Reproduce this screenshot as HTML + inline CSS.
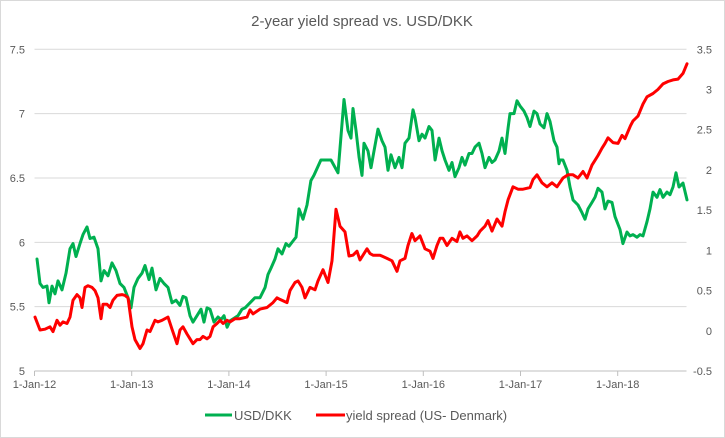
<!DOCTYPE html>
<html><head><meta charset="utf-8"><style>
body{margin:0;background:#fff}
#c{position:absolute;left:0;top:0;width:725px;height:438px}
text{font-family:"Liberation Sans",sans-serif;fill:#595959}
</style></head><body>
<svg id="c" width="725" height="438" xmlns="http://www.w3.org/2000/svg">
<rect x="0.5" y="0.5" width="724" height="437" fill="#fff" stroke="#d9d9d9"/>
<text x="362" y="26" text-anchor="middle" font-size="15">2-year yield spread vs. USD/DKK</text>
<g id="grid"></g><g id="axes"></g><g id="series"></g>
<g>
<line x1="205" y1="415" x2="232" y2="415" stroke="#00B050" stroke-width="3"/>
<text x="234" y="420" font-size="13">USD/DKK</text>
<line x1="316" y1="415" x2="345" y2="415" stroke="#FF0000" stroke-width="3"/>
<text x="346" y="420" font-size="13">yield spread (US- Denmark)</text>
</g>
</svg>
<script>
const leftTicks=[5,5.5,6,6.5,7,7.5];
const rightTicks=[-0.5,0,0.5,1,1.5,2,2.5,3,3.5];
const xTickLabels=["1-Jan-12","1-Jan-13","1-Jan-14","1-Jan-15","1-Jan-16","1-Jan-17","1-Jan-18"];
const greenDates=[0.026,0.057,0.087,0.129,0.149,0.180,0.211,0.242,0.283,0.324,0.365,0.396,0.427,0.468,0.499,0.540,0.571,0.612,0.653,0.684,0.715,0.756,0.797,0.838,0.880,0.921,0.962,0.993,1.024,1.065,1.106,1.137,1.178,1.209,1.250,1.291,1.332,1.373,1.415,1.456,1.497,1.528,1.559,1.600,1.631,1.672,1.713,1.744,1.775,1.806,1.847,1.888,1.919,1.950,1.981,2.012,2.053,2.094,2.135,2.166,2.217,2.269,2.320,2.372,2.402,2.433,2.474,2.505,2.546,2.587,2.618,2.659,2.690,2.721,2.762,2.803,2.844,2.875,2.947,3.050,3.122,3.184,3.225,3.256,3.277,3.308,3.339,3.369,3.390,3.431,3.462,3.493,3.534,3.575,3.606,3.637,3.668,3.709,3.750,3.781,3.812,3.853,3.894,3.915,3.956,3.987,4.018,4.059,4.090,4.121,4.162,4.193,4.223,4.264,4.295,4.326,4.367,4.398,4.429,4.470,4.501,4.532,4.573,4.604,4.635,4.676,4.707,4.738,4.779,4.810,4.841,4.872,4.892,4.933,4.964,4.995,5.036,5.067,5.098,5.139,5.170,5.201,5.242,5.273,5.304,5.345,5.376,5.396,5.406,5.437,5.478,5.509,5.540,5.592,5.633,5.664,5.694,5.736,5.766,5.797,5.838,5.869,5.900,5.941,5.972,6.024,6.054,6.096,6.127,6.157,6.199,6.229,6.260,6.301,6.332,6.363,6.404,6.435,6.466,6.507,6.538,6.569,6.600,6.631,6.672,6.713];
const usdDkk=[5.87,5.68,5.65,5.66,5.53,5.66,5.60,5.70,5.63,5.76,5.95,5.99,5.89,5.99,6.06,6.12,6.03,6.04,5.95,5.70,5.78,5.74,5.84,5.78,5.68,5.65,5.57,5.49,5.65,5.72,5.76,5.82,5.71,5.80,5.63,5.72,5.68,5.65,5.53,5.55,5.51,5.58,5.57,5.43,5.38,5.43,5.48,5.38,5.49,5.48,5.38,5.42,5.40,5.43,5.34,5.39,5.41,5.43,5.48,5.49,5.53,5.57,5.57,5.65,5.75,5.80,5.87,5.95,5.91,5.99,5.97,6.01,6.04,6.26,6.18,6.29,6.48,6.52,6.64,6.64,6.54,7.11,6.87,6.81,7.04,6.87,6.66,6.52,6.77,6.71,6.58,6.71,6.88,6.79,6.74,6.56,6.68,6.58,6.66,6.58,6.77,6.81,7.03,6.97,6.79,6.84,6.81,6.90,6.87,6.64,6.81,6.71,6.64,6.56,6.62,6.51,6.58,6.66,6.60,6.69,6.69,6.74,6.77,6.69,6.58,6.66,6.62,6.64,6.71,6.81,6.69,6.89,7.00,7.00,7.10,7.06,7.02,6.97,6.90,7.02,7.00,6.92,6.89,7.00,6.94,6.79,6.74,6.61,6.64,6.64,6.56,6.43,6.33,6.29,6.23,6.18,6.26,6.31,6.35,6.42,6.39,6.26,6.32,6.31,6.20,6.10,5.99,6.08,6.05,6.06,6.04,6.06,6.05,6.16,6.26,6.39,6.35,6.41,6.35,6.39,6.37,6.43,6.54,6.43,6.46,6.33];
const redDates=[0.005,0.057,0.108,0.159,0.190,0.231,0.262,0.293,0.334,0.365,0.396,0.437,0.468,0.489,0.520,0.550,0.592,0.622,0.653,0.684,0.705,0.746,0.777,0.808,0.849,0.900,0.931,0.962,1.003,1.034,1.085,1.116,1.157,1.188,1.240,1.271,1.312,1.343,1.373,1.415,1.466,1.497,1.528,1.569,1.600,1.631,1.672,1.703,1.734,1.775,1.806,1.837,1.878,1.909,1.940,1.981,2.012,2.063,2.114,2.186,2.217,2.248,2.320,2.392,2.454,2.495,2.526,2.598,2.629,2.680,2.711,2.752,2.783,2.834,2.886,2.917,2.968,3.020,3.061,3.102,3.143,3.194,3.236,3.277,3.318,3.349,3.421,3.452,3.483,3.555,3.627,3.678,3.729,3.760,3.812,3.843,3.883,3.915,3.966,4.017,4.069,4.100,4.141,4.172,4.203,4.244,4.295,4.346,4.377,4.408,4.450,4.501,4.553,4.584,4.635,4.666,4.707,4.758,4.810,4.841,4.872,4.923,4.974,5.026,5.098,5.129,5.170,5.221,5.273,5.324,5.375,5.437,5.489,5.540,5.592,5.643,5.684,5.736,5.766,5.797,5.838,5.869,5.900,5.952,6.003,6.044,6.075,6.132,6.157,6.209,6.260,6.301,6.363,6.414,6.466,6.517,6.569,6.620,6.672,6.713];
const yieldSpread=[0.17,0.01,0.02,0.05,-0.01,0.13,0.07,0.11,0.09,0.17,0.38,0.45,0.41,0.29,0.54,0.56,0.54,0.50,0.41,0.15,0.33,0.33,0.29,0.38,0.44,0.45,0.44,0.41,0.05,-0.11,-0.22,-0.16,0.01,-0.01,0.13,0.11,0.13,0.15,0.17,0.02,-0.16,0.01,0.05,-0.04,-0.10,-0.16,-0.11,-0.11,-0.07,-0.10,-0.07,0.05,0.09,0.13,0.09,0.13,0.11,0.15,0.15,0.17,0.26,0.21,0.27,0.29,0.35,0.41,0.39,0.35,0.50,0.60,0.62,0.54,0.41,0.54,0.51,0.62,0.76,0.60,0.87,1.51,1.30,1.23,0.93,0.94,0.99,0.88,1.02,0.96,0.94,0.94,0.90,0.87,0.74,0.87,0.90,1.06,1.21,1.12,1.18,1.02,0.99,0.90,1.06,1.15,1.15,1.06,1.15,1.11,1.23,1.15,1.18,1.12,1.18,1.24,1.30,1.37,1.24,1.39,1.30,1.48,1.63,1.79,1.76,1.76,1.78,1.88,1.94,1.84,1.79,1.84,1.79,1.90,1.94,1.94,1.90,1.98,1.90,2.06,2.12,2.18,2.27,2.33,2.40,2.34,2.33,2.43,2.39,2.55,2.61,2.67,2.82,2.91,2.95,3.00,3.07,3.10,3.12,3.13,3.20,3.32];

const NS="http://www.w3.org/2000/svg";
const X0=34.5,YPX=97.2,XEND=686.5,YT=49.3,YB=371;
const x=t=>X0+t*YPX;
const yL=v=>YB-(v-5)/2.5*(YB-YT);
const yR=v=>YB-(v+0.5)/4*(YB-YT);
function mk(tag,attrs,parent,txt){const e=document.createElementNS(NS,tag);for(const k in attrs)e.setAttribute(k,attrs[k]);if(txt!==undefined)e.textContent=txt;parent.appendChild(e);return e;}
const grid=document.getElementById('grid'),axes=document.getElementById('axes'),series=document.getElementById('series');
leftTicks.forEach(v=>{
  const yy=yL(v);
  if(v>5){const g=mk('line',{x1:X0,x2:XEND,y1:yy,y2:yy,stroke:'#d9d9d9','stroke-width':1},grid);
  
  }
  const t=mk('text',{x:25,y:yy+4,'text-anchor':'end','font-size':11},axes,String(v));
  
  
});
rightTicks.forEach(v=>{
  const t=mk('text',{x:712,y:yR(v)+4,'text-anchor':'end','font-size':11},axes,String(v));
  
  
});
const ax=mk('line',{x1:X0,x2:XEND,y1:YB,y2:YB,stroke:'#bfbfbf','stroke-width':1},axes);


xTickLabels.forEach((l,i)=>{
  const xx=x(i);
  const tk=mk('line',{x1:xx,x2:xx,y1:YB,y2:YB+5,stroke:'#bfbfbf'},axes);
  
  
  const t=mk('text',{x:xx,y:YB+17,'text-anchor':'middle','font-size':11},axes,l);
  
  
});
function line(dates,vals,ys,color,name){
  const d=dates.map((t,i)=>(i?'L':'M')+x(t).toFixed(1)+','+ys(vals[i]).toFixed(1)).join('');
  const p=mk('path',{d:d,fill:'none',stroke:color,'stroke-width':3,'stroke-linejoin':'round','stroke-linecap':'round'},series);
  
  
}
line(greenDates,usdDkk,yL,'#00B050','usd-dkk-line');
line(redDates,yieldSpread,yR,'#FF0000','yield-spread-line');
</script>
</body></html>
